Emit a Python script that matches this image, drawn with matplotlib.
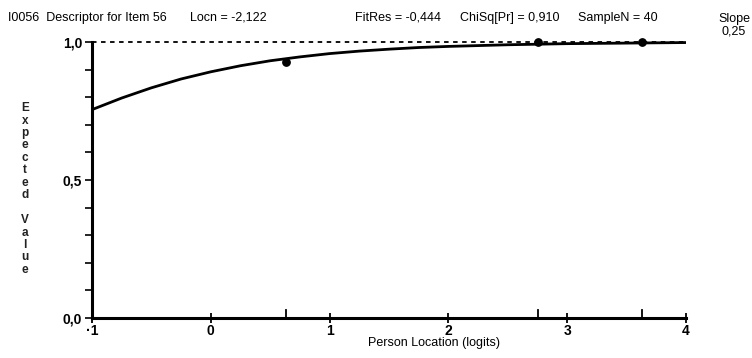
import matplotlib
matplotlib.use("Agg")
import matplotlib.pyplot as plt
from matplotlib.ticker import MultipleLocator, FuncFormatter

# Data
curve_x = [-1.0, -0.75, -0.5, -0.25, 0.0, 0.25, 0.5, 0.75, 1.0, 1.25, 1.5, 1.75, 2.0, 2.5, 3.0, 3.5, 4.0]
curve_y = [0.755, 0.797, 0.834, 0.866, 0.892, 0.914, 0.932, 0.946, 0.958, 0.967, 0.974, 0.980, 0.984, 0.990, 0.994, 0.996, 0.998]
obs_x = [0.63, 2.75, 3.63]
obs_y = [0.928, 1.0, 1.0]
x_ticks = [-1, 0, 1, 2, 3, 4]
y_ticks = [0.0, 0.5, 1.0]
header_id = "I0056  Descriptor for Item 56"
header_locn = "Locn = -2,122"
header_fit = "FitRes = -0,444"
header_chi = "ChiSq[Pr] = 0,910"
header_n = "SampleN = 40"
slope_text = "Slope\n0,25"
x_label = "Person Location (logits)"
y_label = "Expected Value"

plt.rcParams['font.family'] = ["Liberation Sans", "DejaVu Sans"]

W, H = 752, 358
fig = plt.figure(figsize=(W / 100, H / 100), dpi=100)
ax = fig.add_axes([92 / W, (H - 318) / H, (686 - 92) / W, (318 - 42) / H])
ax.set_xlim(-1, 4)
ax.set_ylim(0, 1)

ax.plot(curve_x, curve_y, color="black", lw=2.0, solid_capstyle="butt", clip_on=False)
ax.axhline(1.0, color="black", lw=1.3, ls=(0, (2.5, 2.5)), clip_on=False)
ax.scatter(obs_x, obs_y, s=28, color="black", zorder=5, clip_on=False)
# class interval marks on x axis
for xv in obs_x:
    ax.plot([xv, xv], [0, 0.03], color="black", lw=1.3, clip_on=False)

for s in ["top", "right"]:
    ax.spines[s].set_visible(False)
ax.spines["left"].set_linewidth(2.2)
ax.spines["bottom"].set_linewidth(2.2)

ax.set_xticks(x_ticks)
ax.set_xticklabels([str(v).replace("-", "·") if v < 0 else str(v) for v in x_ticks])
ax.set_yticks(y_ticks)
ax.yaxis.set_major_formatter(FuncFormatter(lambda v, p: f"{v:.1f}".replace(".", ",")))
ax.yaxis.set_minor_locator(MultipleLocator(0.1))
ax.tick_params(axis="y", which="both", direction="out", length=5, width=1.2, labelsize=10, pad=2)
ax.tick_params(axis="x", which="major", direction="inout", length=7, width=1.3, labelsize=10, pad=1)
for lab in ax.get_yticklabels() + ax.get_xticklabels():
    lab.set_fontweight("bold")

fig.text(434 / W, 1 - 343 / H, x_label, fontsize=9, va="center", ha="center")

hy = 1 - 18 / H
fig.text(8 / W, hy, header_id, fontsize=9, va="center", ha="left")
fig.text(190 / W, hy, header_locn, fontsize=9, va="center", ha="left")
fig.text(355 / W, hy, header_fit, fontsize=9, va="center", ha="left")
fig.text(460 / W, hy, header_chi, fontsize=9, va="center", ha="left")
fig.text(578 / W, hy, header_n, fontsize=9, va="center", ha="left")
fig.text(734 / W, 1 - 25 / H, slope_text, fontsize=9, va="center", ha="center", linespacing=1.05)

letters = "\n".join(list(y_label))
fig.text(25 / W, 1 - 189 / H, letters, fontsize=8.5, va="center", ha="center",
         linespacing=1.05, fontweight="bold", color="#222222")

fig.savefig("out.png", dpi=100)
